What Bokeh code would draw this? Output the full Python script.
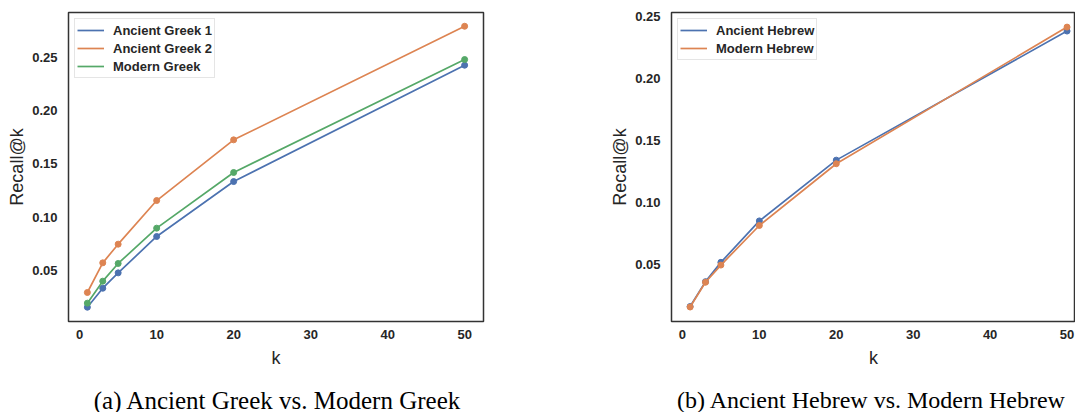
from bokeh.plotting import figure
from bokeh.layouts import row, column
from bokeh.models import Div, Legend, LegendItem, FixedTicker, Range1d, NumeralTickFormatter
from bokeh.embed import file_html
from bokeh.resources import INLINE

k = [1, 3, 5, 10, 20, 50]
ancient_greek_1 = [0.0156, 0.0334, 0.0478, 0.0819, 0.1334, 0.2425]
ancient_greek_2 = [0.0294, 0.0572, 0.0747, 0.1156, 0.1725, 0.2790]
modern_greek = [0.0194, 0.0400, 0.0566, 0.0897, 0.1419, 0.2478]
ancient_hebrew = [0.0159, 0.0360, 0.0516, 0.0851, 0.1342, 0.2385]
modern_hebrew = [0.0155, 0.0355, 0.0494, 0.0814, 0.1313, 0.2417]

x_ticks = [0, 10, 20, 30, 40, 50]
y_ticks = [0.05, 0.10, 0.15, 0.20, 0.25]
captions = ["(a) Ancient Greek vs. Modern Greek", "(b) Ancient Hebrew vs. Modern Hebrew"]

BLUE = "#4C72B0"
ORANGE = "#DD8452"
GREEN = "#55A868"
DARK = "#262626"


def make_fig(width, xr, yr, border_left, border_right):
    p = figure(width=width, height=375, output_backend="svg", toolbar_location=None,
               x_range=Range1d(*xr), y_range=Range1d(*yr),
               min_border_left=border_left, min_border_right=border_right,
               min_border_top=12, min_border_bottom=54)
    p.background_fill_color = "white"
    p.border_fill_color = "white"
    p.outline_line_color = "#333333"
    p.outline_line_width = 1.5
    p.grid.visible = False
    for ax in (p.xaxis[0], p.yaxis[0]):
        ax.axis_line_color = None
        ax.major_tick_in = 0
        ax.major_tick_out = 0
        ax.minor_tick_in = 0
        ax.minor_tick_out = 0
        ax.major_tick_line_color = None
        ax.minor_tick_line_color = None
        ax.major_label_text_font = "Liberation Sans"
        ax.major_label_text_font_style = "bold"
        ax.major_label_text_font_size = "13px"
        ax.major_label_text_color = DARK
        ax.axis_label_text_font = "Liberation Sans"
        ax.axis_label_text_font_style = "normal"
        ax.axis_label_text_font_size = "18px"
        ax.axis_label_text_color = DARK
    p.xaxis[0].ticker = FixedTicker(ticks=x_ticks)
    p.yaxis[0].ticker = FixedTicker(ticks=y_ticks)
    p.yaxis[0].formatter = NumeralTickFormatter(format="0.00")
    p.xaxis[0].axis_label = "k"
    p.yaxis[0].axis_label = "Recall@k"
    p.xaxis[0].major_label_standoff = 8
    p.xaxis[0].axis_label_standoff = 6
    p.yaxis[0].major_label_standoff = 11
    p.yaxis[0].axis_label_standoff = 2
    return p


def add_series(p, ys, colors, names):
    items = []
    for y, c, n in zip(ys, colors, names):
        r = p.line(k, y, line_color=c, line_width=1.7)
        p.scatter(k, y, size=6, fill_color=c, line_color=c)
        items.append(LegendItem(label=n, renderers=[r]))
    leg = Legend(items=items, location="top_left", margin=6, padding=2, spacing=0,
                 label_height=18, glyph_height=18, glyph_width=27, label_standoff=9,
                 label_text_font="Liberation Sans", label_text_font_style="bold",
                 label_text_font_size="13px", label_text_color=DARK,
                 border_line_color="#cccccc", border_line_width=1,
                 background_fill_color="white", background_fill_alpha=0.8)
    p.add_layout(leg)


p1 = make_fig(580, (-1.45, 52.45), (0.0022, 0.2919), 68, 97)
add_series(p1, [ancient_greek_1, ancient_greek_2, modern_greek],
           [BLUE, ORANGE, GREEN], ["Ancient Greek 1", "Ancient Greek 2", "Modern Greek"])

p2 = make_fig(495, (-1.42, 51.1), (0.0038, 0.2535), 91, 0)
add_series(p2, [ancient_hebrew, modern_hebrew], [BLUE, ORANGE],
           ["Ancient Hebrew", "Modern Hebrew"])

span = ('<span style="position:absolute;left:{x}px;top:25px;transform:translate(-50%,-50%);'
        'white-space:nowrap;line-height:1;font-size:{fs}px;">{t}</span>')
cap_html = ('<div style="position:relative;width:1075px;height:37px;'
            'font-family:\'Liberation Serif\';color:black;">'
            + span.format(x=277, fs=25, t=captions[0])
            + span.format(x=871, fs=24, t=captions[1]) + '</div>')
cap = Div(text=cap_html, width=1075, height=37, margin=0)

layout = column(row(p1, p2, spacing=0), cap, spacing=0)
open("out.html", "w").write(file_html(layout, INLINE))
